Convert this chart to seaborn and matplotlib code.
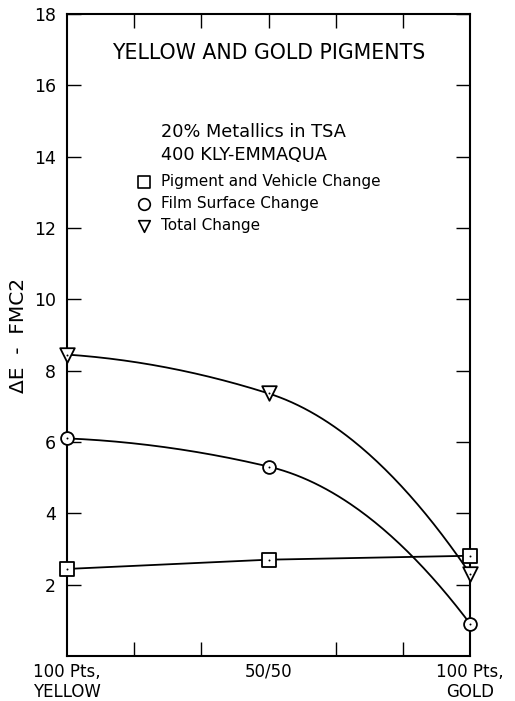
import numpy as np
import pandas as pd
import matplotlib
matplotlib.use("Agg")
import matplotlib.pyplot as plt
import seaborn as sns

# ---- data ----
categories = ["100 Pts,\nYELLOW", "50/50", "100 Pts,\nGOLD"]
x_pos = [0, 1, 2]
pigment_vehicle = [2.44, 2.70, 2.81]
film_surface = [6.10, 5.31, 0.90]
total_change = [8.45, 7.36, 2.30]
y_ticks = [2, 4, 6, 8, 10, 12, 14, 16, 18]

sns.set_style("ticks")
plt.rcParams["font.family"] = ["DejaVu Sans"]
plt.rcParams["text.color"] = "black"
plt.rcParams["axes.labelcolor"] = "black"
plt.rcParams["xtick.color"] = "black"
plt.rcParams["ytick.color"] = "black"

fig = plt.figure(figsize=(5.15, 7.01), dpi=100)
ax = fig.add_axes([0.130, 0.0642, 0.783, 0.916])


def smooth(x, y, n=200):
    """Cubic Hermite curve through the data points (drawing style only)."""
    x = np.asarray(x, float)
    y = np.asarray(y, float)
    h = np.diff(x)
    d = np.diff(y) / h
    m = np.zeros_like(y)
    m[1] = 2.0 / (1.0 / d[0] + 1.0 / d[1])
    m[0] = 2 * d[0] - m[1]
    m[2] = 2 * d[1] - m[1]
    xs = np.linspace(x[0], x[-1], n)
    ys = np.empty_like(xs)
    for i, xv in enumerate(xs):
        k = min(np.searchsorted(x, xv, side="right") - 1, len(x) - 2)
        t = (xv - x[k]) / h[k]
        h00 = 2 * t**3 - 3 * t**2 + 1
        h10 = t**3 - 2 * t**2 + t
        h01 = -2 * t**3 + 3 * t**2
        h11 = t**3 - t**2
        ys[i] = h00 * y[k] + h10 * h[k] * m[k] + h01 * y[k + 1] + h11 * h[k] * m[k + 1]
    return xs, ys

lw = 1.3
sns.lineplot(x=x_pos, y=pigment_vehicle, ax=ax, color="black", lw=lw, zorder=2)
for series in (film_surface, total_change):
    xs, ys = smooth(x_pos, series)
    sns.lineplot(x=xs, y=ys, ax=ax, color="black", lw=lw, zorder=2, sort=False)

mk = dict(facecolor="white", edgecolor="black", linewidth=1.3, zorder=5, legend=False,
          clip_on=False)
sns.scatterplot(x=x_pos, y=pigment_vehicle, marker="s", s=95, ax=ax, **mk)
sns.scatterplot(x=x_pos, y=film_surface, marker="o", s=85, ax=ax, **mk)
sns.scatterplot(x=x_pos, y=total_change, marker="v", s=110, ax=ax, **mk)
for series in (pigment_vehicle, film_surface, total_change):
    sns.scatterplot(x=x_pos, y=series, marker="o", s=2, color="black", ax=ax,
                    linewidth=0, zorder=6, legend=False, clip_on=False)

ax.set_xlim(0, 2)
ax.set_ylim(0, 18)
ax.set_yticks(y_ticks)
ax.set_yticklabels([str(v) for v in y_ticks], fontsize=12.5)
ax.set_xticks(x_pos)
ax.set_xticklabels(categories, fontsize=12, linespacing=1.15)
ax.set_xticks([1/3, 2/3, 4/3, 5/3], minor=True)
ax.tick_params(axis="both", which="both", direction="in", top=True, right=True,
               width=1.0, color="black")
ax.tick_params(axis="y", which="major", length=10, pad=8)
ax.tick_params(axis="x", which="major", length=0, pad=5)
ax.tick_params(axis="x", which="minor", length=10)
sec = ax.secondary_xaxis("top")
sec.set_xticks([1], labels=[""])
sec.tick_params(direction="in", length=10, width=1.0, color="black")
sec.spines["top"].set_visible(False)
for sp in ax.spines.values():
    sp.set_linewidth(1.5)
    sp.set_color("black")

ax.set_ylabel("ΔE  -  FMC2", fontsize=14.5, labelpad=4)

ax.text(1.0, 16.9, "YELLOW AND GOLD PIGMENTS", ha="center", va="center", fontsize=14.8)
ax.text(0.465, 14.7, "20% Metallics in TSA", ha="left", va="center", fontsize=12.8)
ax.text(0.465, 14.05, "400 KLY-EMMAQUA", ha="left", va="center", fontsize=12.8)
leg_items = [("s", "Pigment and Vehicle Change", 13.3),
             ("o", "Film Surface Change", 12.68),
             ("v", "Total Change", 12.06)]
for m, lab, yv in leg_items:
    ax.scatter([0.38], [yv], marker=m, s=70, facecolor="white", edgecolor="black",
               linewidth=1.2, zorder=3, clip_on=False)
    ax.text(0.465, yv, lab, ha="left", va="center", fontsize=11)

fig.savefig("out.png", dpi=100)
